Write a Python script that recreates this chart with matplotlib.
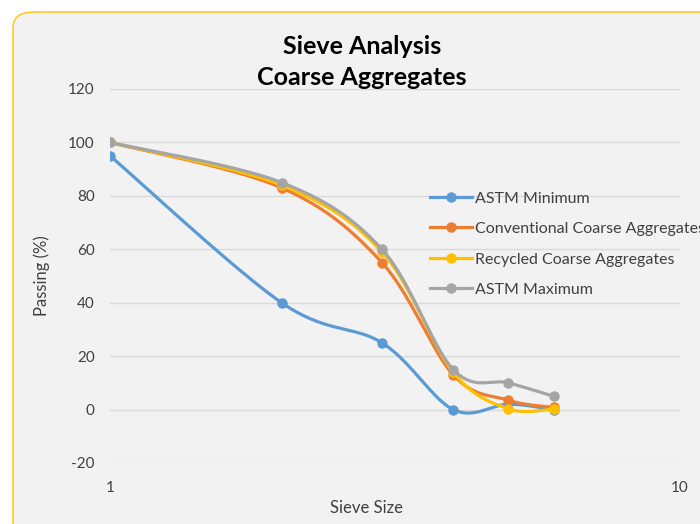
"""
Sieve analysis chart for coarse aggregates (Excel-style smoothed lines).
"""

import matplotlib.pyplot as plt
import numpy as np
from matplotlib.patches import FancyBboxPatch

# ============================================================================
# Data
# ============================================================================

sieve_size = [1, 2, 3, 4, 5, 6]

astm_min = [95, 40, 25, 0, 2, 0]
conventional = [100, 83, 55, 13, 3.5, 0.8]
recycled = [100, 84, 59, 14, 0.3, 0.2]
astm_max = [100, 85, 60, 15, 10, 5]

series_names = [
    "ASTM Minimum",
    "Conventional Coarse Aggregates",
    "Recycled Coarse Aggregates",
    "ASTM Maximum",
]
series_values = [astm_min, conventional, recycled, astm_max]
series_colors = ["#5B9BD5", "#ED7D31", "#FFC000", "#A5A5A5"]

y_ticks = [-20, 0, 20, 40, 60, 80, 100, 120]
x_ticks = [1, 10]


def smooth_curve(x, y, n=40):
    """Excel-like smoothing: Catmull-Rom Bezier in (log x, y) space."""
    lx = np.log10(np.asarray(x, float))
    pts = np.column_stack([lx, np.asarray(y, float)])
    out = []
    for i in range(len(pts) - 1):
        p0 = pts[max(i - 1, 0)]
        p1 = pts[i]
        p2 = pts[i + 1]
        p3 = pts[min(i + 2, len(pts) - 1)]
        c1 = p1 + (p2 - p0) / 6
        c2 = p2 - (p3 - p1) / 6
        t = np.linspace(0, 1, n)[:, None]
        seg = ((1 - t) ** 3 * p1 + 3 * (1 - t) ** 2 * t * c1
               + 3 * (1 - t) * t ** 2 * c2 + t ** 3 * p2)
        out.append(seg if i == 0 else seg[1:])
    out = np.vstack(out)
    return 10 ** out[:, 0], out[:, 1]


plt.rcParams["font.family"] = ["Lato", "DejaVu Sans"]
plt.rcParams["axes.unicode_minus"] = False

fig = plt.figure(figsize=(7, 5.24), dpi=100)
fig.patch.set_facecolor("white")

# Chart area with rounded gold border (extends past right/bottom)
border = FancyBboxPatch(
    (13 / 700, -40 / 524), 760 / 700, (524 - 12 + 40) / 524,
    boxstyle="round,pad=0,rounding_size=0.03",
    transform=fig.transFigure, facecolor="#F2F2F2",
    edgecolor="#FFC000", lw=1.0, zorder=-5,
)
fig.patches.append(border)

ax = fig.add_axes([110 / 700, 1 - 463 / 524, 570 / 700, 374 / 524])
ax.set_facecolor("none")
ax.set_zorder(2)

for name, vals, col in zip(series_names, series_values, series_colors):
    sx, sy = smooth_curve(sieve_size, vals)
    ax.plot(sx, sy, color=col, lw=2.3, solid_capstyle="round", zorder=3)
    ax.plot(sieve_size, vals, "o", color=col, ms=6.5, zorder=3)
    ax.plot([], [], color=col, lw=2.3, marker="o", ms=6.5, label=name)

ax.set_xscale("log")
ax.set_xlim(1, 10)
ax.set_ylim(-20, 120)
ax.set_xticks(x_ticks)
ax.set_xticklabels([str(v) for v in x_ticks])
ax.xaxis.set_minor_locator(plt.NullLocator())
ax.set_yticks(y_ticks)
ax.grid(axis="y", color="#D9D9D9", lw=1)
ax.set_axisbelow(True)
for sp in ax.spines.values():
    sp.set_visible(False)
ax.tick_params(length=0, labelsize=11, colors="#404040")
ax.tick_params(axis="y", pad=11)
ax.tick_params(axis="x", pad=13)

ax.set_xlabel("Sieve Size", fontsize=12, color="#404040")
ax.xaxis.set_label_coords(367 / 700, 1 - 500 / 524, transform=fig.transFigure)
ax.set_ylabel("Passing (%)", fontsize=12, color="#404040", labelpad=13)

fig.text(362 / 700, 1 - 62 / 524, "Sieve Analysis\nCoarse Aggregates",
         ha="center", va="center", fontsize=18, fontweight="bold",
         linespacing=1.4, color="black")

ax.legend(loc="upper left", bbox_to_anchor=(424 / 700, 1 - 185 / 524),
          bbox_transform=fig.transFigure, frameon=False, fontsize=11.5,
          handlelength=2.6, handletextpad=0.18, labelspacing=1.02,
          borderaxespad=0, labelcolor="#404040")

fig.savefig("out.png", dpi=100)
